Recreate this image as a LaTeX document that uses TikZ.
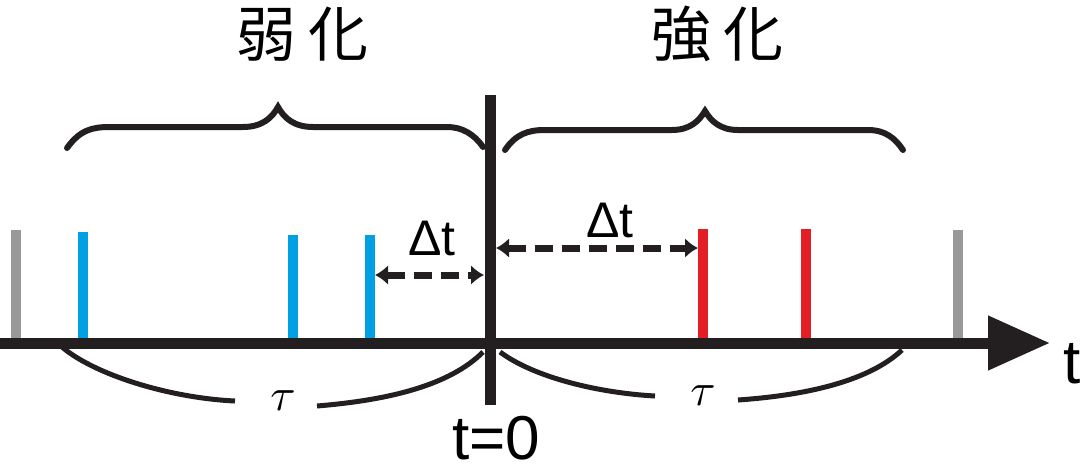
\documentclass[tikz,border=0pt]{standalone}
\usepackage{fontspec}
\setmainfont{Liberation Sans}
\newfontfamily\cjk{Noto Sans CJK JP}
\usetikzlibrary{arrows.meta}
\definecolor{tickgray}{HTML}{999999}
\definecolor{tickblue}{HTML}{00A0E3}
\definecolor{tickred}{HTML}{E41E26}
\definecolor{ink}{HTML}{231F20}
\begin{document}
\begin{tikzpicture}[x=1pt,y=-1pt,
  ticks/.style={line width=10pt},
  axisline/.style={ink,line width=11pt},
  bracepath/.style={ink,line width=6pt,line cap=round},
  taupath/.style={ink,line width=5pt},
  dtarrow/.style={ink,line width=7pt,dash pattern=on 18pt off 9pt,
     {Latex[length=13pt,width=20pt]}-{Latex[length=13pt,width=20pt]}},
  bigtext/.style={inner sep=0pt,font=\fontsize{62}{66}\selectfont},
  dttext/.style={inner sep=0pt,font=\fontsize{50}{56}\selectfont},
  cjktext/.style={inner sep=0pt,font=\cjk\fontsize{60}{66}\selectfont},
  tautext/.style={inner sep=0pt}]
\useasboundingbox (0,0) rectangle (1091,471);
% coordinates
\coordinate (axL) at (0,343);
\coordinate (axR) at (1050,343);
\coordinate (vT) at (490,95);
\coordinate (vB) at (490,405);
\coordinate (g1t) at (16,230); \coordinate (g1b) at (16,339);
\coordinate (g2t) at (958,230); \coordinate (g2b) at (958,339);
\coordinate (b1t) at (83,232); \coordinate (b1b) at (83,347);
\coordinate (b2t) at (293,235); \coordinate (b2b) at (293,347);
\coordinate (b3t) at (370,235); \coordinate (b3b) at (370,347);
\coordinate (r1t) at (703,229); \coordinate (r1b) at (703,347);
\coordinate (r2t) at (806,229); \coordinate (r2b) at (806,347);
% ticks
\draw[ticks,tickgray] (g1b) -- (g1t);
\draw[ticks,tickgray] (g2b) -- (g2t);
\draw[ticks,tickblue] (b1b) -- (b1t);
\draw[ticks,tickblue] (b2b) -- (b2t);
\draw[ticks,tickblue] (b3b) -- (b3t);
\draw[ticks,tickred] (r1b) -- (r1t);
\draw[ticks,tickred] (r2b) -- (r2t);
% axis
\draw[axisline,-{Triangle[length=62pt,width=52pt]}] (axL) -- (axR);
\draw[axisline] (vT) -- (vB);
% delta t arrows
\coordinate (d1a) at (375,275); \coordinate (d1b) at (484,275);
\coordinate (d2a) at (496,248); \coordinate (d2b) at (698,248);
\draw[dtarrow] (d1a) -- (d1b);
\draw[dtarrow] (d2a) -- (d2b);
\node[dttext] (dtl) at (432,238) {Δt};
\node[dttext] (dtr) at (610,220) {Δt};
% top braces
\draw[bracepath] (67,148) .. controls (80,130) and (92,127) .. (110,127) -- (243,127)
  .. controls (262,127) and (272,118) .. (278,107)
  .. controls (284,118) and (294,127) .. (313,127) -- (447,127)
  .. controls (462,127) and (474,134) .. (483,147);
\draw[bracepath] (505,150) .. controls (516,134) and (528,130) .. (545,130) -- (672,130)
  .. controls (690,130) and (699,121) .. (705,111)
  .. controls (711,121) and (720,130) .. (738,130) -- (868,130)
  .. controls (885,130) and (895,138) .. (903,150);
% bottom tau curves
\draw[taupath] (62,347) .. controls (95,375) and (170,398) .. (235,401);
\draw[taupath] (317,406) .. controls (390,400) and (450,385) .. (483,352);
\draw[taupath] (500,352) .. controls (535,378) and (600,393) .. (655,396);
\draw[taupath] (738,400) .. controls (810,395) and (870,380) .. (902,350);
\node[tautext] (tau1) at (283,401) {\scalebox{4.6}{$\tau$}};
\node[tautext] (tau2) at (703,396) {\scalebox{4.6}{$\tau$}};
% labels
\node[bigtext] (t0) at (496,438) {t=0};
\node[bigtext] (tlab) at (1072,364) {t};
\node[cjktext] (weak) at (302,34) {弱\hspace{12pt}化};
\node[cjktext] (strong) at (717,34) {強\hspace{12pt}化};
\end{tikzpicture}
\end{document}
